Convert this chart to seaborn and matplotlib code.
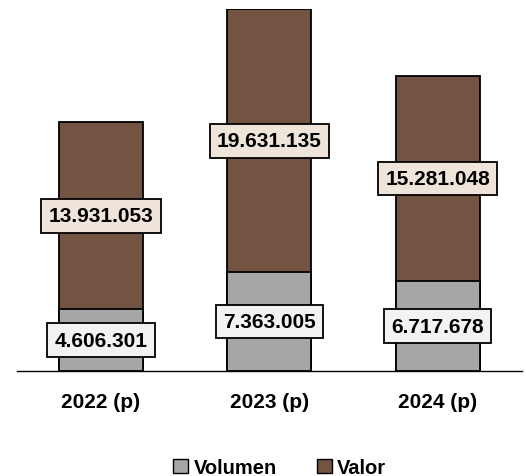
import seaborn as sns
import matplotlib.pyplot as plt
import pandas as pd
from matplotlib.patches import Patch

sns.set_style("white")
plt.rcParams['font.family'] = ['Liberation Sans', 'DejaVu Sans']
plt.rcParams['text.color'] = 'black'
plt.rcParams['xtick.color'] = 'black'
plt.rcParams['xtick.labelcolor'] = 'black'

# Data
years = ["2022 (p)", "2023 (p)", "2024 (p)"]
volumen = [4606301, 7363005, 6717678]
valor = [13931053, 19631135, 15281048]

grey = "#A6A6A6"
brown = "#735341"

df = pd.DataFrame({"Year": years, "Volumen": volumen, "Valor": valor})
df["Total"] = df["Volumen"] + df["Valor"]

def fmt(v):
    return f"{v:,}".replace(",", ".")

fig = plt.figure(figsize=(5.26, 4.77), dpi=100)
ax = fig.add_axes([0.032, 0.22, 0.96, 0.759])

# Stacked bars: total (brown) then volumen (grey) over it
sns.barplot(data=df, x="Year", y="Total", color=brown, width=0.5,
            edgecolor="black", linewidth=1.3, saturation=1, ax=ax)
sns.barplot(data=df, x="Year", y="Volumen", color=grey, width=0.5,
            edgecolor="black", linewidth=1.3, saturation=1, ax=ax)

for i, row in df.iterrows():
    ax.text(i, row["Volumen"] / 2, fmt(row["Volumen"]), ha="center", va="center",
            fontsize=15, fontweight="bold", color="black",
            bbox=dict(boxstyle="square,pad=0.35", fc="#F2F2F2", ec="black", lw=1.3))
    ax.text(i, row["Volumen"] + row["Valor"] / 2, fmt(row["Valor"]), ha="center",
            va="center", fontsize=15, fontweight="bold", color="black",
            bbox=dict(boxstyle="square,pad=0.35", fc="#EEE4DA", ec="black", lw=1.3))

ax.set_xlim(-0.5, 2.5)
ax.set_ylim(0, 27.0e6)
ax.set_xlabel("")
ax.set_ylabel("")
ax.set_yticks([])
for s in ["top", "right", "left"]:
    ax.spines[s].set_visible(False)
ax.spines["bottom"].set_color("black")
ax.spines["bottom"].set_linewidth(1)

ax.set_xticks([-0.5, 0.5, 1.5, 2.5], minor=True)
ax.tick_params(axis="x", which="minor", length=5, width=1, color="black", direction="out")
ax.tick_params(axis="x", which="major", length=0, pad=15, labelsize=15, labelcolor="black")
for lbl in ax.get_xticklabels():
    lbl.set_fontweight("bold")

handles = [Patch(facecolor=grey, edgecolor="black", label="Volumen"),
           Patch(facecolor=brown, edgecolor="black", label="Valor")]
fig.legend(handles=handles, loc="center", bbox_to_anchor=(0.532, 0.018), ncol=2,
           frameon=False, handlelength=0.75, handleheight=0.75, handletextpad=0.25,
           columnspacing=2.0, labelcolor="black", prop={"weight": "bold", "size": 14.5})

plt.savefig("out.png", dpi=100)
